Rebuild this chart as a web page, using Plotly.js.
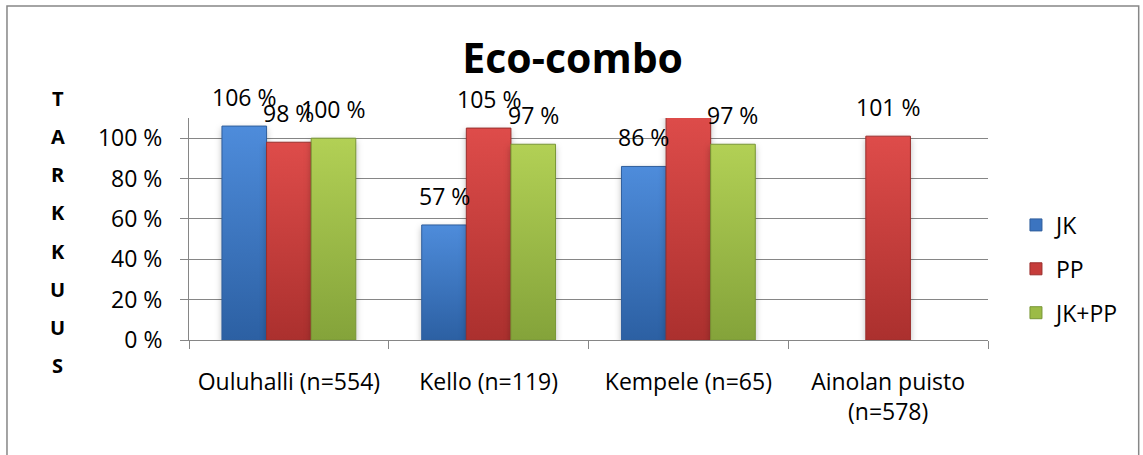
<!DOCTYPE html>
<html>
<head>
<meta charset="utf-8">
<script src="https://cdn.plot.ly/plotly-3.0.1.min.js"></script>
<style>
  html, body { margin: 0; padding: 0; background: #ffffff; }
  #chart { width: 1143px; height: 455px; }
</style>
</head>
<body>
<div id="chart"></div>
<script>
// Accuracy (tarkkuus) per site, percent of reference
const categories = ['Ouluhalli (n=554)', 'Kello (n=119)', 'Kempele (n=65)', 'Ainolan puisto<br>(n=578)'];
const seriesNames = ['JK', 'PP', 'JK+PP'];
const jk   = [106, 57, 86, null];
const pp   = [98, 105, 112, 101];
const jkpp = [100, 97, 97, null];
const yTicks = [0, 20, 40, 60, 80, 100];
const yTickLabels = ['0 %', '20 %', '40 %', '60 %', '80 %', '100 %'];
const chartTitle = 'Eco-combo';
const axisTitle = 'TARKKUUS';

const Y_MAX = 110;
const BAR_GAP = 0.33;
const FONT = 'Open Sans, Noto Sans, sans-serif';
const TEXT_SIZE = 23;

const series = [jk, pp, jkpp];
// top / bottom shades of each bar colour, plus the edge colour
const shades = [
  { top: '#4e8cdb', bottom: '#2c60a3', base: '#3b74c0', edge: '#2f5e9c' },
  { top: '#de4c4a', bottom: '#ab302e', base: '#c63d3b', edge: '#9a2e2c' },
  { top: '#b2d055', bottom: '#84a33a', base: '#9cbb46', edge: '#789636' }
];

const traces = series.map((vals, k) => ({
  type: 'bar',
  name: seriesNames[k],
  x: categories,
  y: vals,
  legendgroup: 'g' + k,
  marker: { color: shades[k].base, line: { color: shades[k].edge, width: 1 } },
  hoverinfo: 'skip'
}));

// value labels above the bars (a bar running past the axis top gets none)
const barWidth = (1 - BAR_GAP) / series.length;
const annotations = [];
series.forEach((vals, k) => {
  vals.forEach((v, j) => {
    if (v === null || v > Y_MAX) return;
    annotations.push({
      xref: 'x', yref: 'y',
      x: j + (k - (series.length - 1) / 2) * barWidth,
      y: v,
      text: v + ' %',
      showarrow: false,
      yanchor: 'bottom',
      yshift: 11,
      font: { family: FONT, size: TEXT_SIZE, color: '#000' }
    });
  });
});

// vertical stacked axis title letters
const letters = axisTitle.split('');
letters.forEach((ch, i) => {
  annotations.push({
    xref: 'paper', yref: 'paper',
    x: -0.164,
    y: 0.4865 + ((letters.length - 1) / 2 - i) * 0.1712,
    text: ch,
    showarrow: false,
    xanchor: 'center', yanchor: 'middle',
    font: { family: FONT, size: 20, color: '#000', weight: 'bold' }
  });
});

const layout = {
  width: 1143,
  height: 455,
  margin: { l: 189, r: 155, t: 118, b: 115 },
  paper_bgcolor: '#ffffff',
  plot_bgcolor: '#ffffff',
  font: { family: FONT, size: TEXT_SIZE, color: '#000' },
  title: {
    text: chartTitle,
    font: { family: FONT, size: 41, color: '#000', weight: 'bold' },
    xref: 'container', x: 0.501, xanchor: 'center',
    yref: 'container', y: 0.872, yanchor: 'middle'
  },
  barmode: 'group',
  bargap: BAR_GAP,
  bargroupgap: 0,
  showlegend: true,
  legend: {
    x: 1.035, xanchor: 'left',
    y: 0.32, yanchor: 'middle',
    font: { family: FONT, size: TEXT_SIZE, color: '#000' },
    tracegroupgap: 11,
    traceorder: 'grouped',
    bgcolor: 'rgba(0,0,0,0)'
  },
  xaxis: {
    type: 'category',
    showgrid: false,
    showline: true,
    linecolor: '#868686',
    linewidth: 1,
    ticks: 'outside',
    tickson: 'boundaries',
    ticklen: 8,
    tickcolor: '#868686',
    ticklabelstandoff: 21,
    tickfont: { family: FONT, size: TEXT_SIZE, color: '#000' },
    fixedrange: true
  },
  yaxis: {
    range: [0, Y_MAX],
    tickmode: 'array',
    tickvals: yTicks,
    ticktext: yTickLabels,
    showgrid: true,
    gridcolor: '#868686',
    gridwidth: 1,
    showline: true,
    linecolor: '#868686',
    linewidth: 1,
    ticks: 'outside',
    ticklen: 8,
    tickcolor: '#868686',
    ticklabelstandoff: 13,
    zeroline: false,
    tickfont: { family: FONT, size: TEXT_SIZE, color: '#000' },
    fixedrange: true
  },
  annotations: annotations,
  shapes: [{
    type: 'rect', xref: 'paper', yref: 'paper',
    x0: -0.2278, x1: 1.1886, y0: -0.6, y1: 1.5045,
    line: { color: '#878787', width: 1.5 },
    fillcolor: 'rgba(0,0,0,0)',
    layer: 'below'
  }]
};

Plotly.newPlot('chart', traces, layout, { staticPlot: true }).then(gd => {
  // vertical shading on bars and legend swatches
  const svg = gd.querySelector('svg.main-svg');
  const ns = 'http://www.w3.org/2000/svg';
  let defs = svg.querySelector('defs');
  if (!defs) { defs = document.createElementNS(ns, 'defs'); svg.insertBefore(defs, svg.firstChild); }
  shades.forEach((s, k) => {
    const g = document.createElementNS(ns, 'linearGradient');
    g.setAttribute('id', 'barShade' + k);
    g.setAttribute('x1', '0'); g.setAttribute('y1', '0');
    g.setAttribute('x2', '0'); g.setAttribute('y2', '1');
    [[0, s.top], [1, s.bottom]].forEach(([o, c]) => {
      const st = document.createElementNS(ns, 'stop');
      st.setAttribute('offset', o);
      st.setAttribute('stop-color', c);
      g.appendChild(st);
    });
    defs.appendChild(g);
  });
  gd.querySelectorAll('.barlayer .trace.bars').forEach((t, k) => {
    t.querySelectorAll('path').forEach(p => { p.style.fill = 'url(#barShade' + k + ')'; });
    t.style.filter = 'drop-shadow(0px 3px 3px rgba(0,0,0,0.25))';
  });
  gd.querySelectorAll('.legend .traces').forEach((t, k) => {
    t.querySelectorAll('path.legendbar').forEach(p => { p.style.fill = 'url(#barShade' + k + ')'; });
  });
});
</script>
</body>
</html>
